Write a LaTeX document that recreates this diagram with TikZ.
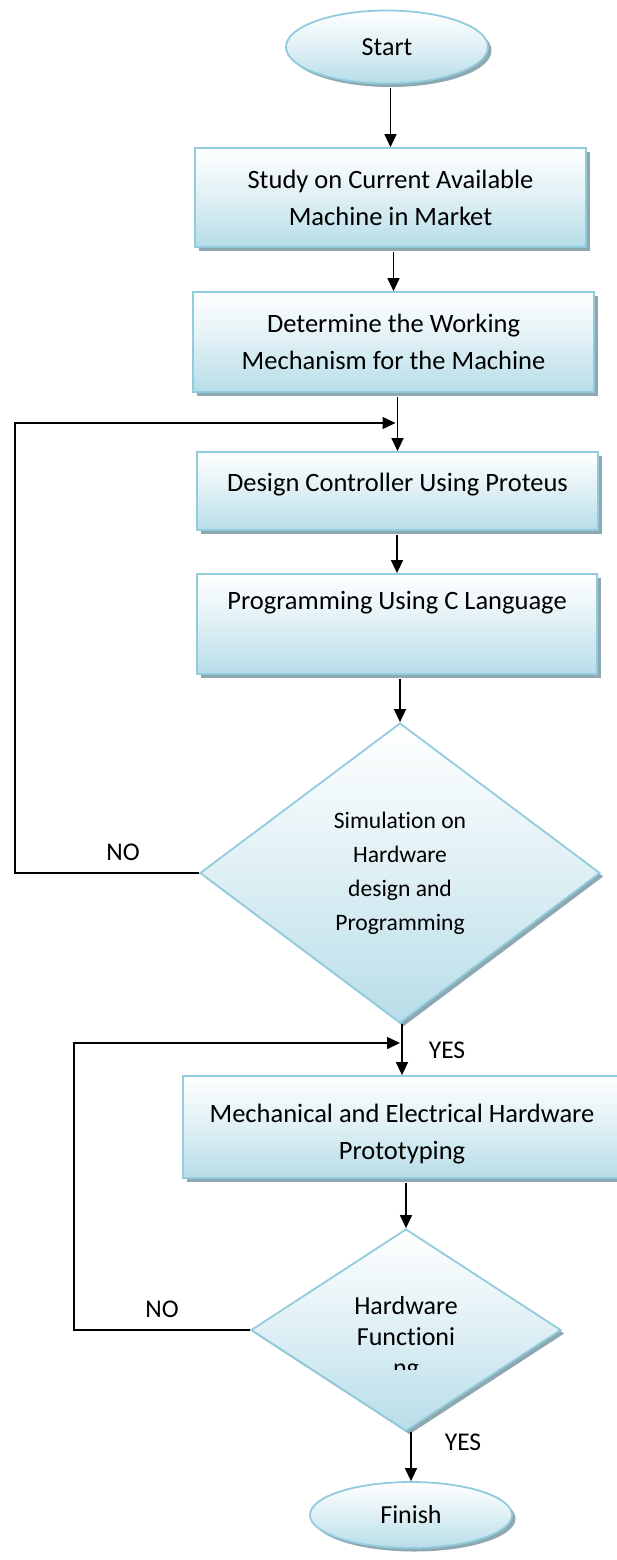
\documentclass[tikz,border=0pt]{standalone}
\usepackage{fontspec}
\setmainfont{Carlito}[Ligatures=NoCommon]
\usetikzlibrary{arrows.meta,shapes.geometric,shadows,calc}

\definecolor{edgeblue}{RGB}{146,204,220}
\definecolor{fillblue}{RGB}{183,221,232}
\definecolor{shadowgray}{RGB}{142,168,178}

\tikzset{
  shaded/.style={draw=edgeblue, line width=1.8pt, top color=white, bottom color=fillblue,
    middle color=fillblue!45,
    drop shadow={shadow xshift=3.5pt, shadow yshift=-3.5pt, fill=shadowgray, opacity=1}},
  terminal/.style={shaded, ellipse, inner sep=0pt, font=\fontsize{26}{30}\selectfont},
  procbox/.style={shaded, rectangle, inner sep=0pt, align=center,
    font=\fontsize{26.5}{37}\selectfont},
  decision/.style={shaded, diamond, inner sep=0pt, align=center},
  boxtext/.style={inner sep=0pt, align=center, font=\fontsize{26.5}{37}\selectfont},
  flowline/.style={line width=1.5pt, -{Triangle[length=13pt,width=12pt]}},
  tag/.style={inner sep=0pt, font=\fontsize{25.5}{30}\selectfont}
}

\begin{document}
\begin{tikzpicture}[x=1pt, y=-1pt]
\useasboundingbox (0,0) rectangle (617,1560);
\clip (0,0) rectangle (617,1560);

% terminals and process steps
\node[terminal, minimum width=202pt, minimum height=73pt] (start) at (387,47) {Start};
\node[procbox, minimum width=391pt, minimum height=99pt] (b1) at (390.5,197.5)
  {Study on Current Available\\Machine in Market};
\node[procbox, minimum width=401pt, minimum height=100pt] (b2) at (393.5,342)
  {Determine the Working\\Mechanism for the Machine};
\node[procbox, minimum width=401pt, minimum height=78pt] (b3) at (397.5,491) {};
\node[boxtext] (b3t) at (397.5,485) {Design Controller Using Proteus};
\node[procbox, minimum width=400pt, minimum height=100pt] (b4) at (397,624) {};
\node[boxtext] (b4t) at (397,603) {Programming Using C Language};

% first decision
\node[decision, minimum width=400pt, minimum height=300pt,
  font=\fontsize{23.6}{34}\selectfont] (d1) at (400,873)
  {Simulation on\\Hardware\\design and\\Programming};

\node[procbox, minimum width=438pt, minimum height=102pt] (b5) at (402,1127) {};
\node[boxtext] (b5t) at (402,1134) {Mechanical and Electrical Hardware\\Prototyping};

% second decision, its text box cuts off the last line
\node[decision, minimum width=310pt, minimum height=202pt] (d2) at (406,1330) {};
\begin{scope}
  \clip (300,1285) rectangle (515,1369);
  \node[inner sep=0pt, align=center, font=\fontsize{26}{31}\selectfont] (d2t) at (406,1339)
    {Hardware\\Func\kern0pt tioni\\ng};
\end{scope}

\node[terminal, minimum width=202pt, minimum height=66pt] (finish) at (411,1515) {Finish};

% main flow
\draw[flowline] (b1.north |- start.south) ++(0,4) -- (b1.north);
\draw[flowline] (b2.north |- b1.south) ++(0,4) -- (b2.north);
\draw[flowline] (b3.north |- b2.south) ++(0,4) -- (b3.north);
\draw[flowline] (b4.north |- b3.south) ++(0,4) -- (b4.north);
\draw[flowline] (d1.north |- b4.south) ++(0,4) -- (d1.north);
\draw[flowline] (b5.north |- d1.south) -- (b5.north);
\draw[flowline] (d2.north |- b5.south) ++(0,4) -- (d2.north);
\draw[flowline] (finish.north |- d2.south) -- (finish.north);

% feedback loops
\coordinate (j1) at (395.5,423);
\coordinate (j2) at (400,1043);
\draw[flowline] (d1.west) -- (15,873) -- (15,423) -- (j1);
\draw[flowline] (d2.west) -- (74,1330) -- (74,1043) -- (j2);

% branch labels
\node[tag] (no1) at (123,852) {NO};
\node[tag] (no2) at (162,1309) {NO};
\node[tag] (yes1) at (447,1050) {YES};
\node[tag] (yes2) at (463,1442) {YES};
\end{tikzpicture}
\end{document}
